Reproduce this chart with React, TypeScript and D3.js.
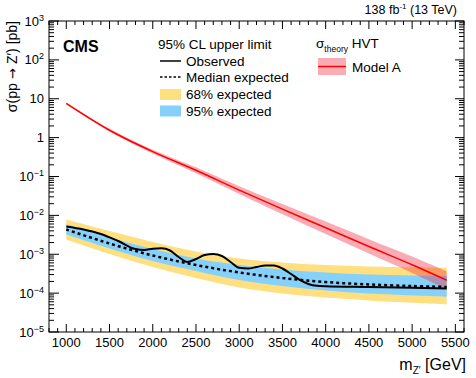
import React from 'react';
import * as d3 from 'd3';

// expected limits and theory (pb)
const masses = [1000, 1500, 2000, 2500, 3000, 3500, 4000, 4500, 5000, 5400];
const median = [4.33e-3, 1.89e-3, 9.29e-4, 5.29e-4, 3.4e-4, 2.45e-4, 1.93e-4, 1.67e-4, 1.52e-4, 1.44e-4];
const band68Lo = [2.39e-3, 1.01e-3, 4.7e-4, 2.45e-4, 1.4e-4, 9.8e-5, 7.71e-5, 6.46e-5, 5.64e-5, 5.09e-5];
const band68Hi = [7.83e-3, 3.96e-3, 2.07e-3, 1.18e-3, 7.78e-4, 6.14e-4, 5.29e-4, 4.84e-4, 4.61e-4, 4.48e-4];
const band95Lo = [3.22e-3, 1.41e-3, 6.7e-4, 3.71e-4, 2.18e-4, 1.52e-4, 1.17e-4, 9.8e-5, 8.7e-5, 8.1e-5];
const band95Hi = [5.82e-3, 2.7e-3, 1.36e-3, 7.78e-4, 5.29e-4, 4.05e-4, 3.4e-4, 3.01e-4, 2.84e-4, 2.76e-4];
const theory = [7.59, 1.55, 0.437, 0.1445, 0.0447, 0.01445, 0.00479, 0.00158, 5.37e-4, 2.14e-4];
const theoryLo = [7.24, 1.43, 0.389, 0.1216, 0.0355, 0.0107, 0.00331, 0.00104, 3.31e-4, 1.26e-4];
const theoryHi = [7.94, 1.68, 0.49, 0.172, 0.0562, 0.0195, 0.00692, 0.00243, 8.71e-4, 3.63e-4];

const obsMass = [1000, 1200, 1400, 1600, 1800, 1900, 2000, 2100, 2200, 2300, 2400, 2500, 2600, 2700, 2800,
  2900, 3000, 3100, 3200, 3300, 3400, 3500, 3600, 3700, 3800, 3900, 4000, 4500, 5000, 5400];
const observed = [5.18e-3, 4.33e-3, 3.32e-3, 2.19e-3, 1.36e-3, 1.29e-3, 1.38e-3, 1.42e-3, 1.25e-3, 8.5e-4,
  6.32e-4, 7.55e-4, 9.57e-4, 1.01e-3, 9.0e-4, 6.32e-4, 4.48e-4, 4.3e-4, 4.7e-4, 5.14e-4, 5.14e-4, 4.3e-4,
  3.1e-4, 2.18e-4, 1.72e-4, 1.54e-4, 1.5e-4, 1.44e-4, 1.37e-4, 1.32e-4];

const xTicks = [1000, 1500, 2000, 2500, 3000, 3500, 4000, 4500, 5000, 5500];
const yExps = [-5, -4, -3, -2, -1, 0, 1, 2, 3];

const FONT = 'Liberation Sans, Arial, Helvetica, sans-serif';
const W = 476;
const H = 378;
const m = { left: 49, right: 464, top: 21, bottom: 332 };

const x = d3.scaleLinear().domain([800, 5600]).range([m.left, m.right]);
const y = d3.scaleLog().domain([1e-5, 1e3]).range([m.bottom, m.top]);

const YELLOW = '#FFDF7F';
const BLUE = '#85D1FB';

function band(lo: number[], hi: number[]) {
  const a = d3.area<number>()
    .x((_, i) => x(masses[i]))
    .y0((_, i) => y(lo[i]))
    .y1((_, i) => y(hi[i]))
    .curve(d3.curveCatmullRom);
  return a(masses) || '';
}

function curve(xs: number[], ys: number[], smooth = d3.curveCatmullRom) {
  const l = d3.line<number>()
    .x((_, i) => x(xs[i]))
    .y((d) => y(d))
    .curve(smooth);
  return l(ys) || '';
}

function YLabel({ e }: { e: number }) {
  const yy = y(Math.pow(10, e)) + 4.5;
  if (e === 0) return <text x={44} y={yy} textAnchor="end">1</text>;
  if (e === 1) return <text x={44} y={yy} textAnchor="end">10</text>;
  return (
    <text x={44} y={yy} textAnchor="end">
      10<tspan dy={-5} fontSize={9}>{e < 0 ? '\u2212' + -e : e}</tspan>
    </text>
  );
}

export default function App() {
  const minorX = d3.range(800, 5601, 100).filter((v) => v % 500 !== 0);
  const minorY: number[] = [];
  for (let e = -5; e < 3; e++) for (let k = 2; k < 10; k++) minorY.push(k * Math.pow(10, e));

  return (
    <svg width={W} height={H} style={{ position: 'absolute', left: 0, top: 0 }} fontFamily={FONT}>
      <rect width={W} height={H} fill="#fff" />

      <path d={band(band68Lo, band68Hi)} fill={YELLOW} />
      <path d={band(band95Lo, band95Hi)} fill={BLUE} />
      <path d={band(theoryLo, theoryHi)} fill="#f03040" fillOpacity={0.4} />
      <path d={curve(masses, theory)} fill="none" stroke="#ff0000" strokeWidth={1.5} />
      <path d={curve(masses, median)} fill="none" stroke="#000" strokeWidth={2.5} strokeDasharray="3,3" />
      <path d={curve(obsMass, observed, d3.curveMonotoneX)} fill="none" stroke="#000" strokeWidth={2} />

      {/* frame and ticks */}
      <rect x={m.left} y={m.top} width={m.right - m.left} height={m.bottom - m.top} fill="none" stroke="#000" strokeWidth={1} />
      <g stroke="#000" strokeWidth={1}>
        {xTicks.map((t) => (
          <g key={'xt' + t}>
            <line x1={x(t)} x2={x(t)} y1={m.bottom} y2={m.bottom - 8} />
            <line x1={x(t)} x2={x(t)} y1={m.top} y2={m.top + 8} />
          </g>
        ))}
        {minorX.map((t) => (
          <g key={'xm' + t}>
            <line x1={x(t)} x2={x(t)} y1={m.bottom} y2={m.bottom - 4} />
            <line x1={x(t)} x2={x(t)} y1={m.top} y2={m.top + 4} />
          </g>
        ))}
        {yExps.map((e) => (
          <g key={'yt' + e}>
            <line x1={m.left} x2={m.left + 10} y1={y(Math.pow(10, e))} y2={y(Math.pow(10, e))} />
            <line x1={m.right} x2={m.right - 9} y1={y(Math.pow(10, e))} y2={y(Math.pow(10, e))} />
          </g>
        ))}
        {minorY.map((v, i) => (
          <g key={'ym' + i}>
            <line x1={m.left} x2={m.left + 5} y1={y(v)} y2={y(v)} />
            <line x1={m.right} x2={m.right - 5} y1={y(v)} y2={y(v)} />
          </g>
        ))}
      </g>

      <g fontSize={13}>
        {xTicks.map((t) => (
          <text key={'xl' + t} x={x(t)} y={347} textAnchor="middle">{t}</text>
        ))}
        {yExps.map((e) => <YLabel key={'yl' + e} e={e} />)}
      </g>

      {/* axis titles */}
      <text x={466} y={370} textAnchor="end" fontSize={16}>
        m<tspan dy={4} fontSize={10}>Z′</tspan><tspan dy={-4}> [GeV]</tspan>
      </text>
      <text transform="translate(17,21) rotate(-90)" textAnchor="end" fontSize={14}>
        σ(pp<tspan fontFamily="DejaVu Sans" fontSize={13}> → </tspan>Z′) [pb]
      </text>

      <text x={63} y={52} fontSize={16} fontWeight="bold">CMS</text>
      <text x={457} y={14} textAnchor="end" fontSize={12.5}>
        138 fb<tspan dy={-5} fontSize={8}>-1</tspan><tspan dy={5}> (13 TeV)</tspan>
      </text>

      {/* legend: limits */}
      <g fontSize={13.5}>
        <text x={158} y={49}>95% CL upper limit</text>
        <line x1={160} x2={181} y1={61} y2={61} stroke="#000" strokeWidth={1.5} />
        <text x={186} y={66}>Observed</text>
        <line x1={160} x2={181} y1={77} y2={77} stroke="#000" strokeWidth={1.5} strokeDasharray="2.5,2" />
        <text x={186} y={82}>Median expected</text>
        <rect x={160} y={89} width={21} height={11} fill={YELLOW} />
        <text x={186} y={99}>68% expected</text>
        <rect x={160} y={105.5} width={21} height={11} fill={BLUE} />
        <text x={186} y={115.5}>95% expected</text>
      </g>

      {/* legend: theory */}
      <g fontSize={13.5}>
        <text x={316} y={48}>
          σ<tspan dy={4} fontSize={8.5}>theory</tspan><tspan dy={-4}> HVT</tspan>
        </text>
        <rect x={318} y={58} width={28} height={17} fill="#f03040" fillOpacity={0.4} />
        <line x1={318} x2={346} y1={66.5} y2={66.5} stroke="#ff0000" strokeWidth={1.5} />
        <text x={352} y={72}>Model A</text>
      </g>
    </svg>
  );
}
